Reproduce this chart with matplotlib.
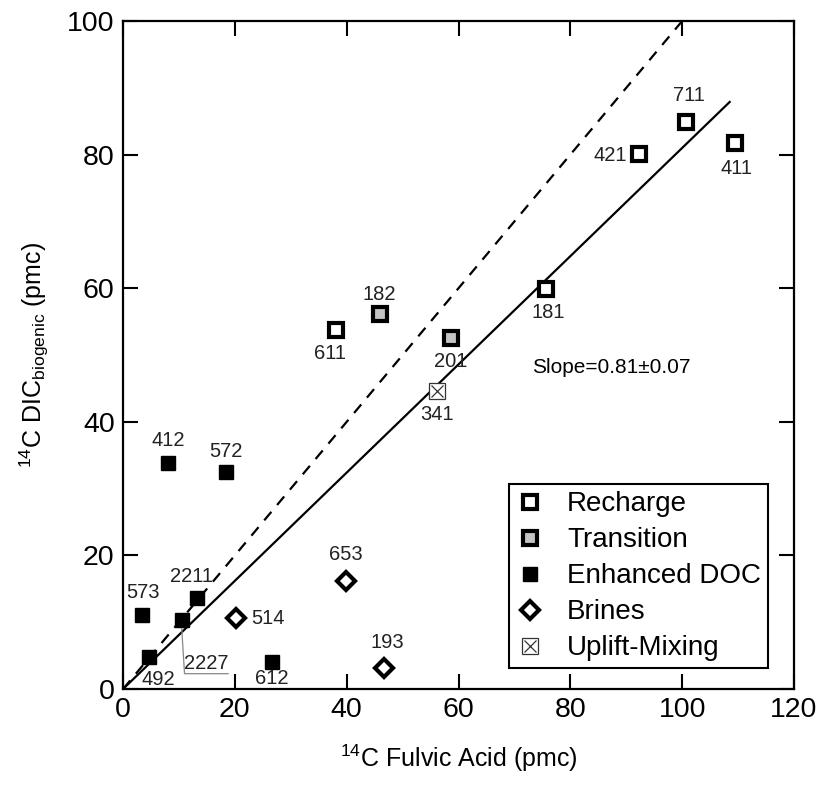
import matplotlib
matplotlib.use("Agg")
import matplotlib.pyplot as plt
from matplotlib.lines import Line2D
from matplotlib.legend_handler import HandlerTuple

plt.rcParams['font.family'] = ['Liberation Sans', 'DejaVu Sans']
plt.rcParams['mathtext.fontset'] = 'custom'
plt.rcParams['mathtext.rm'] = 'Liberation Sans'
plt.rcParams['mathtext.it'] = 'Liberation Sans:italic'

# data (x = 14C fulvic acid, y = 14C DIC biogenic, pmc)
recharge_ids = ['611', '181', '421', '711', '411']
recharge_x = [38.0, 75.6, 92.3, 100.7, 109.5]
recharge_y = [53.7, 59.9, 80.1, 84.9, 81.8]

transition_ids = ['182', '201']
transition_x = [45.9, 58.6]
transition_y = [56.1, 52.5]

doc_ids = ['412', '572', '2211', '573', '2227', '492', '612']
doc_x = [8.0, 18.4, 13.3, 3.4, 10.5, 4.6, 26.6]
doc_y = [33.9, 32.5, 13.7, 11.1, 10.3, 4.8, 4.0]

brine_ids = ['514', '653', '193']
brine_x = [20.2, 39.8, 46.7]
brine_y = [10.6, 16.2, 3.2]

uplift_ids = ['341']
uplift_x = [56.2]
uplift_y = [44.6]

slope = 0.81
fit_xmax = 108.5

# label placement (offset in points, horizontal alignment)
label_pos = {
    '711': (2, 19, 'center'), '421': (-9, -1, 'right'), '411': (1, -19, 'center'),
    '181': (2, -17, 'center'), '611': (-4, -17, 'center'), '182': (0, 14, 'center'),
    '201': (0, -17, 'center'), '341': (0, -17, 'center'), '412': (0, 16, 'center'),
    '572': (0, 15, 'center'), '2211': (-4, 15, 'center'), '573': (1, 16, 'center'),
    '2227': (18, -31, 'center'), '492': (7, -16, 'center'), '612': (0, -12, 'center'),
    '514': (11, 0, 'left'), '653': (0, 19, 'center'), '193': (2, 18, 'center'),
}

fig = plt.figure(figsize=(8.24, 7.90), dpi=100)
ax = fig.add_axes([0.1493, 0.1278, 0.8143, 0.8456])

# 1:1 line and fitted slope
ax.plot([0, 100], [0, 100], color='black', lw=1.6, dashes=(5, 4), zorder=2)
ax.plot([0, fit_xmax], [0, slope * fit_xmax], color='black', lw=1.6, zorder=2)

sq = dict(marker='s', linestyle='none', markersize=10, markeredgewidth=3,
          markeredgecolor='black')
ax.plot(recharge_x, recharge_y, markerfacecolor='white', zorder=4, **sq)
ax.plot(transition_x, transition_y, markerfacecolor='#c4c4c4', zorder=4, **sq)
ax.plot(doc_x, doc_y, marker='s', linestyle='none', markersize=10.5,
        color='black', zorder=4)
ax.plot(brine_x, brine_y, marker='D', linestyle='none', markersize=9,
        markeredgewidth=3, markerfacecolor='white', markeredgecolor='black', zorder=4)
ax.plot(uplift_x, uplift_y, marker='s', linestyle='none', markersize=11,
        markeredgewidth=0.9, markerfacecolor='white', markeredgecolor='#333333', zorder=4)
ax.plot(uplift_x, uplift_y, marker='x', linestyle='none', markersize=8,
        markeredgewidth=0.9, color='#333333', zorder=5)

all_ids = recharge_ids + transition_ids + doc_ids + brine_ids + uplift_ids
all_x = recharge_x + transition_x + doc_x + brine_x + uplift_x
all_y = recharge_y + transition_y + doc_y + brine_y + uplift_y
for lab, x, y in zip(all_ids, all_x, all_y):
    dx, dy, ha = label_pos[lab]
    ax.annotate(lab, (x, y), xytext=(dx, dy), textcoords='offset points',
                ha=ha, va='center', fontsize=14.5, color='#222222', zorder=6)

# leader line for 2227
i = doc_ids.index('2227')
ax.plot([doc_x[i], doc_x[i] + 0.5, doc_x[i] + 8.3],
        [doc_y[i] - 1.3, 2.3, 2.3], color='#888888', lw=0.9, zorder=3)

ax.text(73.2, 48.1, 'Slope=0.81\u00b10.07', fontsize=15, va='center', ha='left')

ax.set_xlim(0, 120)
ax.set_ylim(0, 100)
ax.set_xticks(range(0, 121, 20))
ax.set_yticks(range(0, 101, 20))
ax.tick_params(direction='in', length=11, width=1.5, top=True, right=True,
               labelsize=20.5, pad=6)
for s in ax.spines.values():
    s.set_linewidth(1.6)

ax.set_xlabel(r'$^{14}$C Fulvic Acid (pmc)', fontsize=18, labelpad=14)
ax.set_ylabel(r'$^{14}$C DIC$_{\mathrm{biogenic}}$ (pmc)', fontsize=18, labelpad=12)

h_rech = Line2D([], [], markerfacecolor='white', **sq)
h_tran = Line2D([], [], markerfacecolor='#c4c4c4', **sq)
h_doc = Line2D([], [], marker='s', linestyle='none', markersize=10.5, color='black')
h_brine = Line2D([], [], marker='D', linestyle='none', markersize=9, markeredgewidth=3,
                 markerfacecolor='white', markeredgecolor='black')
h_up1 = Line2D([], [], marker='s', linestyle='none', markersize=11, markeredgewidth=0.9,
               markerfacecolor='white', markeredgecolor='#333333')
h_up2 = Line2D([], [], marker='x', linestyle='none', markersize=8, markeredgewidth=0.9,
               color='#333333')
leg = ax.legend([h_rech, h_tran, h_doc, h_brine, (h_up1, h_up2)],
                ['Recharge', 'Transition', 'Enhanced DOC', 'Brines', 'Uplift-Mixing'],
                handler_map={tuple: HandlerTuple(ndivide=1)},
                loc='lower left', bbox_to_anchor=(0.575, 0.031),
                fontsize=20, labelspacing=0.36, handlelength=1.0,
                handletextpad=0.84, borderpad=0.25, borderaxespad=0,
                fancybox=False, framealpha=1, edgecolor='black')
leg.get_frame().set_linewidth(1.5)

fig.savefig('out.png', dpi=100)
